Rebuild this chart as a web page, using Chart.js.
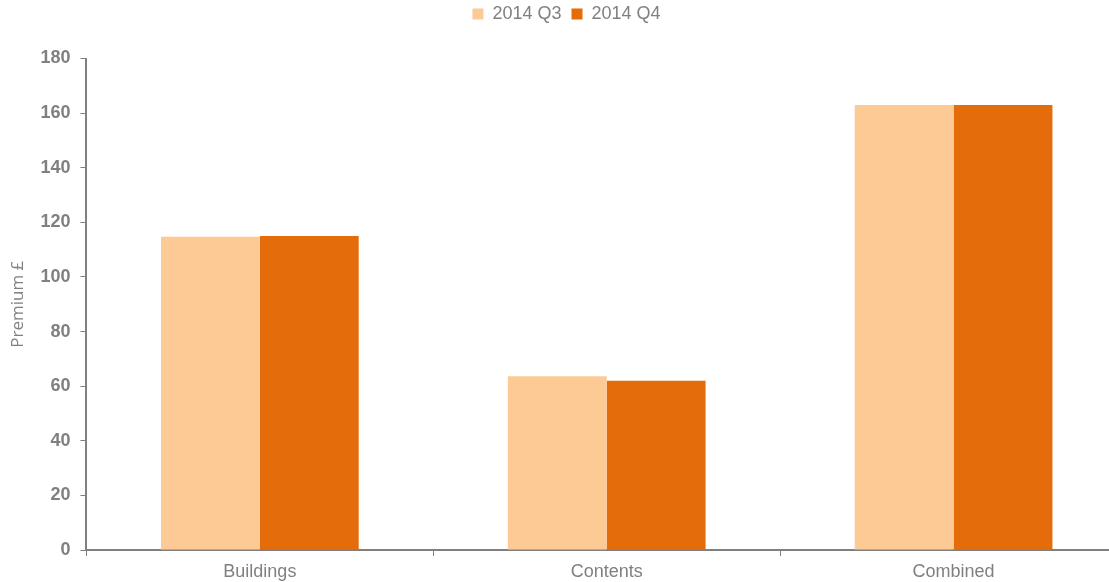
<!DOCTYPE html>
<html>
<head>
<meta charset="utf-8">
<script src="https://cdn.jsdelivr.net/npm/chart.js@4"></script>
<style>
  html, body { margin: 0; padding: 0; background: #fff; overflow: hidden; }
  #wrap { width: 1135px; height: 582px; }
</style>
</head>
<body>
<div id="wrap"><canvas id="myChart" width="1135" height="582"></canvas></div>
<script>
(() => {
    'use strict'

    // Average premiums by cover type
    const categories = ['Buildings', 'Contents', 'Combined'];
    const seriesNames = ['2014 Q3', '2014 Q4'];
    const q3Values = [114.7, 63.6, 163.0];
    const q4Values = [115.0, 62.0, 163.0];
    const yTicks = [0, 20, 40, 60, 80, 100, 120, 140, 160, 180];

    const grey = '#808080';

    // Draw something shifted down/up by dy
    function shifted(chart, fn, dy) {
        return function () {
            const c = chart.ctx;
            c.save();
            c.translate(0, dy);
            fn.apply(this, arguments);
            c.restore();
        };
    }

    // Add a gap under the legend and lift it a little
    const legendGap = {
        id: 'legendGap',
        beforeInit(chart) {
            const legend = chart.legend;
            const fit = legend.fit;
            legend.fit = function () {
                fit.bind(legend)();
                this.height += 20.5;
            };
            legend.draw = shifted(chart, legend.draw, -5);
        }
    };

    const ctx = document.getElementById('myChart').getContext('2d');
    new Chart(ctx, {
        type: 'bar',
        data: {
            labels: categories,
            datasets: [{
                label: seriesNames[0],
                data: q3Values,
                backgroundColor: '#FDCA96',
                categoryPercentage: 0.57,
                barPercentage: 1.0
            }, {
                label: seriesNames[1],
                data: q4Values,
                backgroundColor: '#E46C0A',
                categoryPercentage: 0.57,
                barPercentage: 1.0
            }]
        },
        options: {
            responsive: false,
            animation: false,
            layout: {
                padding: { left: 6, right: 8, top: 0, bottom: 0 }
            },
            scales: {
                x: {
                    // category names sit a little lower than their reserved space
                    afterUpdate(scale) {
                        if (!scale._lowered) {
                            scale.drawLabels = shifted(scale.chart, scale.drawLabels, 3);
                            scale._lowered = true;
                        }
                    },
                    grid: {
                        display: true,
                        drawOnChartArea: false,
                        offset: true,
                        color: grey,
                        tickLength: 6
                    },
                    border: { color: grey, width: 2 },
                    ticks: {
                        color: grey,
                        font: { family: 'Liberation Sans', size: 18, lineHeight: 1 },
                        padding: 4
                    }
                },
                y: {
                    min: 0,
                    max: 180,
                    afterBuildTicks(axis) {
                        axis.ticks = yTicks.map(v => ({ value: v }));
                    },
                    grid: {
                        display: true,
                        drawOnChartArea: false,
                        color: grey,
                        tickLength: 6
                    },
                    border: { color: grey, width: 2 },
                    ticks: {
                        color: grey,
                        font: { family: 'Liberation Sans', size: 18, weight: 'bold' },
                        padding: 10
                    },
                    title: {
                        display: true,
                        text: 'Premium £',
                        color: grey,
                        font: { family: 'Open Sans', size: 17 },
                        padding: 2
                    }
                }
            },
            plugins: {
                legend: {
                    display: true,
                    position: 'top',
                    labels: {
                        color: grey,
                        font: { family: 'Liberation Sans', size: 18 },
                        boxWidth: 11,
                        boxHeight: 11,
                        padding: 10
                    }
                },
                tooltip: { enabled: false }
            }
        },
        plugins: [legendGap]
    });
})();
</script>
</body>
</html>
